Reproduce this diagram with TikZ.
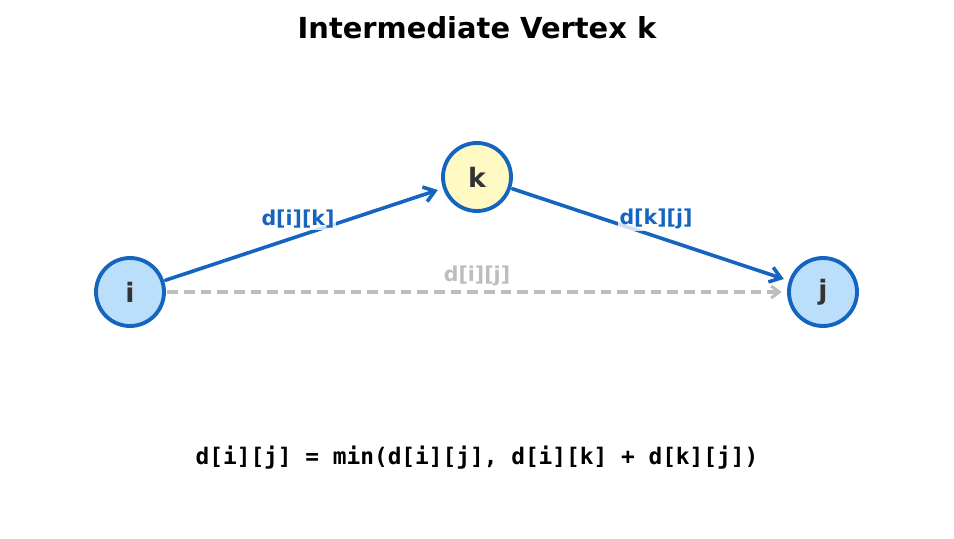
\documentclass[tikz,border=0pt]{standalone}
\usepackage{fontspec}
\setmainfont{DejaVu Sans}
\newfontfamily\monobold{DejaVu Sans Mono}
\usetikzlibrary{arrows.meta}
\definecolor{eblue}{HTML}{1565C0}
\definecolor{nblue}{HTML}{BBDEFB}
\definecolor{nyellow}{HTML}{FFF9C4}
\definecolor{ntext}{HTML}{333333}
\definecolor{egray}{HTML}{BDBDBD}
\tikzset{
  vertex/.style={circle, draw=eblue, line width=2.9pt, minimum size=51pt, inner sep=0pt,
    text=ntext, font=\fontsize{20}{22}\selectfont\bfseries},
  edgeblue/.style={draw=eblue, line width=2.7pt, line cap=round,
    -{Straight Barb[length=8pt,width=11.5pt,line width=2.7pt]}, shorten >=4pt, shorten <=1pt},
  edgegray/.style={draw=egray, line width=2.5pt, dash pattern=on 8pt off 4.5pt,
    -{Straight Barb[length=6pt,width=9pt,line width=2.3pt]}, shorten >=4pt, shorten <=1pt},
  elabel/.style={font=\fontsize{15.4}{17}\selectfont\bfseries, fill=white, fill opacity=0.8,
    text opacity=1, inner sep=1.5pt},
}
\begin{document}
\begin{tikzpicture}[x=0.75pt,y=-0.75pt]
\useasboundingbox (0,0) rectangle (954,539);
\node[font=\fontsize{21.7}{24}\selectfont\bfseries] (title) at (477,28) {Intermediate Vertex k};
\node[vertex, fill=nblue] (i) at (130,292) {i};
\node[vertex, fill=nyellow] (k) at (477,177) {k};
\node[vertex, fill=nblue] (j) at (823,292) {j};
\draw[edgegray] (i) -- (j);
\draw[edgeblue] (i) -- (k);
\draw[edgeblue] (k) -- (j);
\node[elabel, text=egray] (lij) at (477,276) {d[i][j]};
\node[elabel, text=eblue] (lik) at (298,219) {d[i][k]};
\node[elabel, text=eblue] (lkj) at (656,219) {d[k][j]};
\node[font=\fontsize{17.1}{19}\monobold\bfseries] (formula) at (477,458) {d[i][j] = min(d[i][j], d[i][k] + d[k][j])};
\end{tikzpicture}
\end{document}
